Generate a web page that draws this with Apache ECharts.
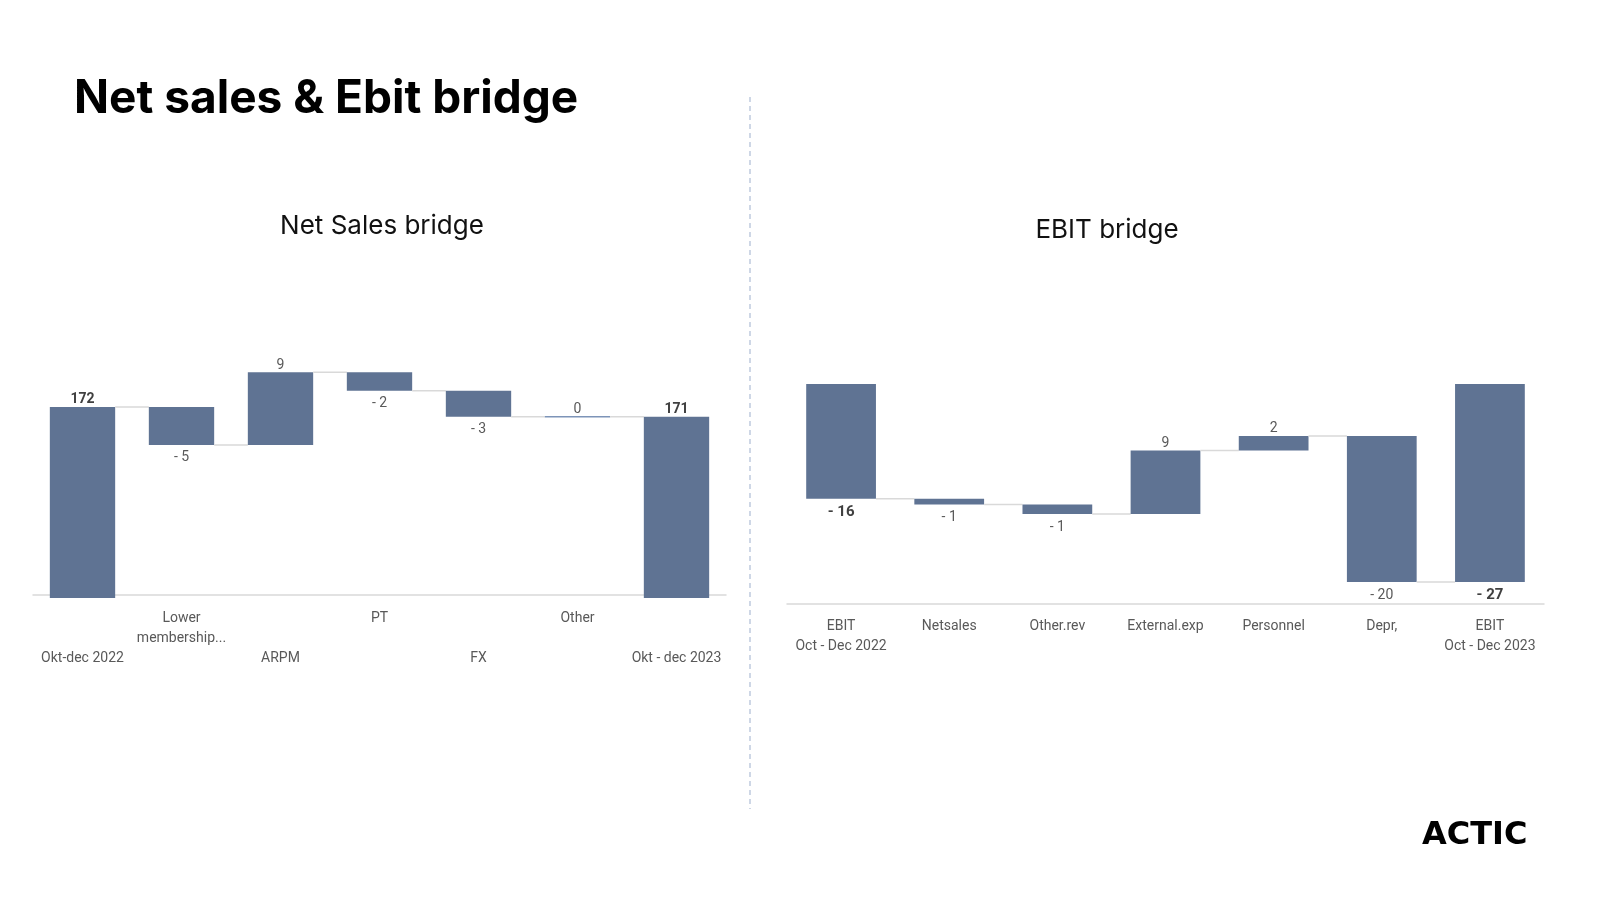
<!DOCTYPE html>
<html>
<head>
<meta charset="utf-8">
<script src="https://cdn.jsdelivr.net/npm/echarts@6/dist/echarts.min.js"></script>
<style>
html,body{margin:0;padding:0;background:#fff;}
#chart{width:1600px;height:900px;}
</style>
</head>
<body>
<div id="chart"></div>
<script>
// ---- Data (labels show rounded values) ----
const nsCategories = ['Okt-dec 2022', 'Lower\nmembership...', 'ARPM', 'PT', 'FX', 'Other', 'Okt - dec 2023'];
const nsValues = [172.2, -4.7, 9.0, -2.3, -3.2, 0.0, 171.0];
const nsIsTotal = [true, false, false, false, false, false, true];

const ebitCategories = ['EBIT\nOct - Dec 2022', 'Netsales', 'Other.rev', 'External.exp', 'Personnel', 'Depr,', 'EBIT\nOct - Dec 2023'];
const ebitValues = [-15.7, -0.8, -1.3, 8.7, 2.0, -20.0, -27.1];
const ebitIsTotal = [true, false, false, false, false, false, true];

const pageTitle = 'Net sales & Ebit bridge';
const nsTitle = 'Net Sales bridge';
const ebitTitle = 'EBIT bridge';
const logoText = 'ACTIC';

// ---- Helpers ----
const BAR = '#5f7393';
const CONNECTOR = '#d9d9d9';
const LABEL = '#595959';
const FONT = 'Roboto, "Open Sans", sans-serif';

function buildSegments(values, isTotal, totalBase) {
  let running = 0;
  return values.map((v, i) => {
    let low, high, end, labelTop;
    if (isTotal[i]) {
      end = v;
      if (totalBase === 'axis') { low = null; high = v; labelTop = true; }
      else { low = Math.min(0, v); high = Math.max(0, v); labelTop = v >= 0; }
    } else {
      const start = running;
      end = running + v;
      low = Math.min(start, end); high = Math.max(start, end);
      labelTop = v >= 0;
    }
    running = end;
    return { i, low, high, end, labelTop, total: isTotal[i], v };
  });
}

function fmt(v) {
  const r = Math.round(v);
  return r < 0 ? '- ' + Math.abs(r) : String(Math.abs(r));
}

function makeRender(segs, opts) {
  return function (params, api) {
    const s = segs[params.dataIndex];
    const cs = params.coordSys;
    const band = api.size([1, 0])[0];
    const w = band * opts.barRatio;
    const cx = api.coord([s.i, 0])[0];
    const yTop = api.coord([s.i, s.high])[1];
    const yBot = s.low === null ? cs.y + cs.height + opts.totalOverhang : api.coord([s.i, s.low])[1];
    const children = [];
    const h = yBot - yTop;
    if (h < 1) {
      children.push({ type: 'rect', shape: { x: cx - w / 2, y: yTop - 0.75, width: w, height: 1.5 }, style: { fill: '#7d94b8' } });
    } else {
      children.push({ type: 'rect', shape: { x: cx - w / 2, y: yTop, width: w, height: h }, style: { fill: BAR } });
    }
    if (params.dataIndex < segs.length - 1) {
      const yc = api.coord([s.i, s.end])[1];
      const nx = api.coord([s.i + 1, 0])[0];
      children.push({ type: 'line', shape: { x1: cx + w / 2, y1: yc, x2: nx - w / 2, y2: yc }, style: { stroke: CONNECTOR, lineWidth: 1.5 } });
    }
    const bold = s.total;
    const ly = s.labelTop ? yTop - opts.gapTop : yBot + opts.gapBottom;
    children.push({
      type: 'text',
      style: {
        x: cx, y: ly, text: fmt(s.v),
        fill: bold ? '#404040' : LABEL,
        font: (bold ? 'bold ' : '') + (bold ? opts.totalFont : opts.labelFont) + 'px ' + FONT,
        align: 'center',
        verticalAlign: s.labelTop ? 'bottom' : 'top'
      }
    });
    return { type: 'group', children };
  };
}

const nsSegs = buildSegments(nsValues, nsIsTotal, 'axis');
const ebitSegs = buildSegments(ebitValues, ebitIsTotal, 0);

const NS_MIN = 148.9, NS_MAX = 180;
const EB_MIN = -30.1, EB_MAX = 0;

const chart = echarts.init(document.getElementById('chart'), null, { renderer: 'canvas' });

const option = {
  backgroundColor: '#ffffff',
  animation: false,
  title: [
    { text: pageTitle, left: 74, top: 76, padding: 0, textStyle: { fontFamily: 'Inter', fontWeight: 700, fontSize: 46, color: '#000' } },
    { text: nsTitle, left: 382, top: 213, padding: 0, textAlign: 'center', textStyle: { fontFamily: 'Inter', fontWeight: 400, fontSize: 26, color: '#111' } },
    { text: ebitTitle, left: 1107, top: 217, padding: 0, textAlign: 'center', textStyle: { fontFamily: 'Inter', fontWeight: 400, fontSize: 26, color: '#111' } }
  ],
  graphic: [
    { type: 'line', shape: { x1: 750, y1: 97, x2: 750, y2: 809 }, style: { stroke: '#bfcade', lineWidth: 1.5, lineDash: [5, 4] } },
    { type: 'text', style: { x: 1422, y: 836, text: logoText, font: 'bold 32px "DejaVu Sans"', fill: '#000', textAlign: 'left', textVerticalAlign: 'middle' } }
  ],
  grid: [
    { left: 33, right: 874, top: 344, bottom: 305, containLabel: false },
    { left: 787, right: 56, top: 384, bottom: 296, containLabel: false }
  ],
  xAxis: [
    {
      type: 'category', gridIndex: 0, data: nsCategories,
      axisLine: { show: true, onZero: false, lineStyle: { color: '#d9d9d9', width: 1.5 } },
      axisTick: { show: false },
      axisLabel: {
        interval: 0, margin: 13.5, color: LABEL, fontFamily: FONT, fontSize: 14, lineHeight: 20,
        formatter: (v, idx) => (idx % 2 === 0 ? '\n\n' + v : v)
      }
    },
    {
      type: 'category', gridIndex: 1, data: ebitCategories,
      axisLine: { show: true, onZero: false, lineStyle: { color: '#d9d9d9', width: 1.5 } },
      axisTick: { show: false },
      axisLabel: { interval: 0, margin: 12, color: LABEL, fontFamily: FONT, fontSize: 14, lineHeight: 20.5 }
    }
  ],
  yAxis: [
    { type: 'value', gridIndex: 0, min: NS_MIN, max: NS_MAX, show: false, splitLine: { show: false } },
    { type: 'value', gridIndex: 1, min: EB_MIN, max: EB_MAX, show: false, splitLine: { show: false } }
  ],
  series: [
    {
      type: 'custom', xAxisIndex: 0, yAxisIndex: 0,
      data: nsSegs.map(s => [s.i, s.low === null ? NS_MIN : s.low, s.high]),
      renderItem: makeRender(nsSegs, { barRatio: 0.66, totalOverhang: 3, gapTop: 0, gapBottom: 6, labelFont: 14, totalFont: 14 }),
      clip: false
    },
    {
      type: 'custom', xAxisIndex: 1, yAxisIndex: 1,
      data: ebitSegs.map(s => [s.i, s.low, s.high]),
      renderItem: makeRender(ebitSegs, { barRatio: 0.645, totalOverhang: 0, gapTop: 0, gapBottom: 6, labelFont: 14, totalFont: 15 }),
      clip: false
    }
  ]
};
chart.setOption(option);
</script>
</body>
</html>
